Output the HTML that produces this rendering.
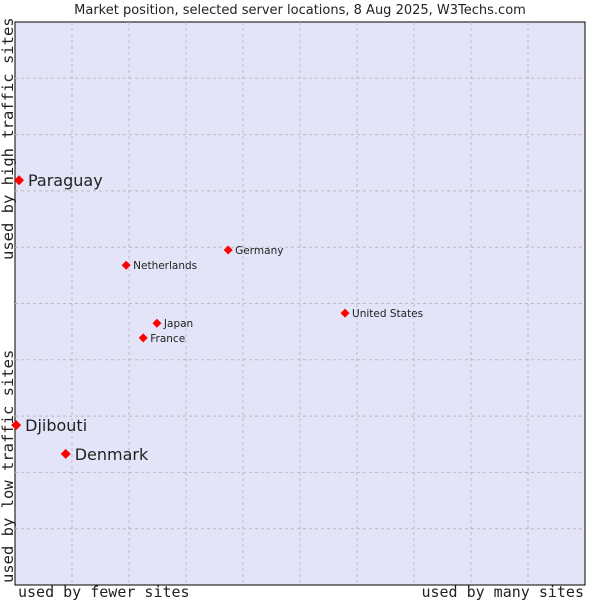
<!DOCTYPE html>
<html><head><meta charset="utf-8"><style>
html,body{margin:0;padding:0;background:#fff;width:600px;height:600px;overflow:hidden}
svg text{font-family:"DejaVu Sans","Liberation Sans",sans-serif;fill:#222}
.mono{font-family:"DejaVu Sans Mono","Liberation Mono",monospace !important}
</style></head><body>
<svg id="chart" width="600" height="600">
<text x="300" y="14" font-size="13" text-anchor="middle">Market position, selected server locations, 8 Aug 2025, W3Techs.com</text>
<rect x="15" y="22" width="570" height="563" fill="#e4e4f8" stroke="#000" stroke-width="1"/>
<g id="grid"></g>
<g id="points"></g>
<text class="mono" x="18" y="597" font-size="15">used by fewer sites</text>
<text class="mono" x="584" y="597" font-size="15" text-anchor="end">used by many sites</text>
<text class="mono" transform="translate(13,260) rotate(-90)" font-size="15.5">used by high traffic sites</text>
<text class="mono" transform="translate(13,583) rotate(-90)" font-size="15.5">used by low traffic sites</text>
</svg>
<script>
const names = ["Paraguay","Djibouti","Denmark","Netherlands","Germany","United States","Japan","France"];
const xValues = [0.7,0.2,8.9,19.5,37.4,57.9,24.9,22.5];
const yValues = [71.9,28.4,23.3,56.8,59.5,48.3,46.5,43.9];
const highlighted = [true,true,true,false,false,false,false,false];
const L=15,R=585,T=22,B=585;
const sx=v=>L+v/100*(R-L);
const sy=v=>B-v/100*(B-T);
const NS="http://www.w3.org/2000/svg";
const grid=document.getElementById('grid');
for(let i=1;i<10;i++){
  const gx=L+i*(R-L)/10, gy=T+i*(B-T)/10;
  let l=document.createElementNS(NS,'line');
  
  
  l.setAttribute('x1',gx);l.setAttribute('x2',gx);l.setAttribute('y1',T);l.setAttribute('y2',B);
  l.setAttribute('stroke','#bbb');l.setAttribute('stroke-dasharray','3,3');grid.appendChild(l);
  l=document.createElementNS(NS,'line');
  
  
  l.setAttribute('x1',L);l.setAttribute('x2',R);l.setAttribute('y1',gy);l.setAttribute('y2',gy);
  l.setAttribute('stroke','#bbb');l.setAttribute('stroke-dasharray','3,3');grid.appendChild(l);
}
const pts=document.getElementById('points');
names.forEach((n,i)=>{
  const x=sx(xValues[i]),y=sy(yValues[i]);
  const m=document.createElementNS(NS,'polygon');
  
  
  const r=highlighted[i]?5:4.5;
  m.setAttribute('points',`${x},${y-r} ${x+r},${y} ${x},${y+r} ${x-r},${y}`);
  m.setAttribute('fill','#f00');pts.appendChild(m);
  const t=document.createElementNS(NS,'text');
  
  
  t.setAttribute('x',x+(highlighted[i]?9:7));
  t.setAttribute('y',y+(highlighted[i]?6:4));
  t.setAttribute('font-size',highlighted[i]?16:10.5);
  t.textContent=n;pts.appendChild(t);
});
</script>
</body></html>
